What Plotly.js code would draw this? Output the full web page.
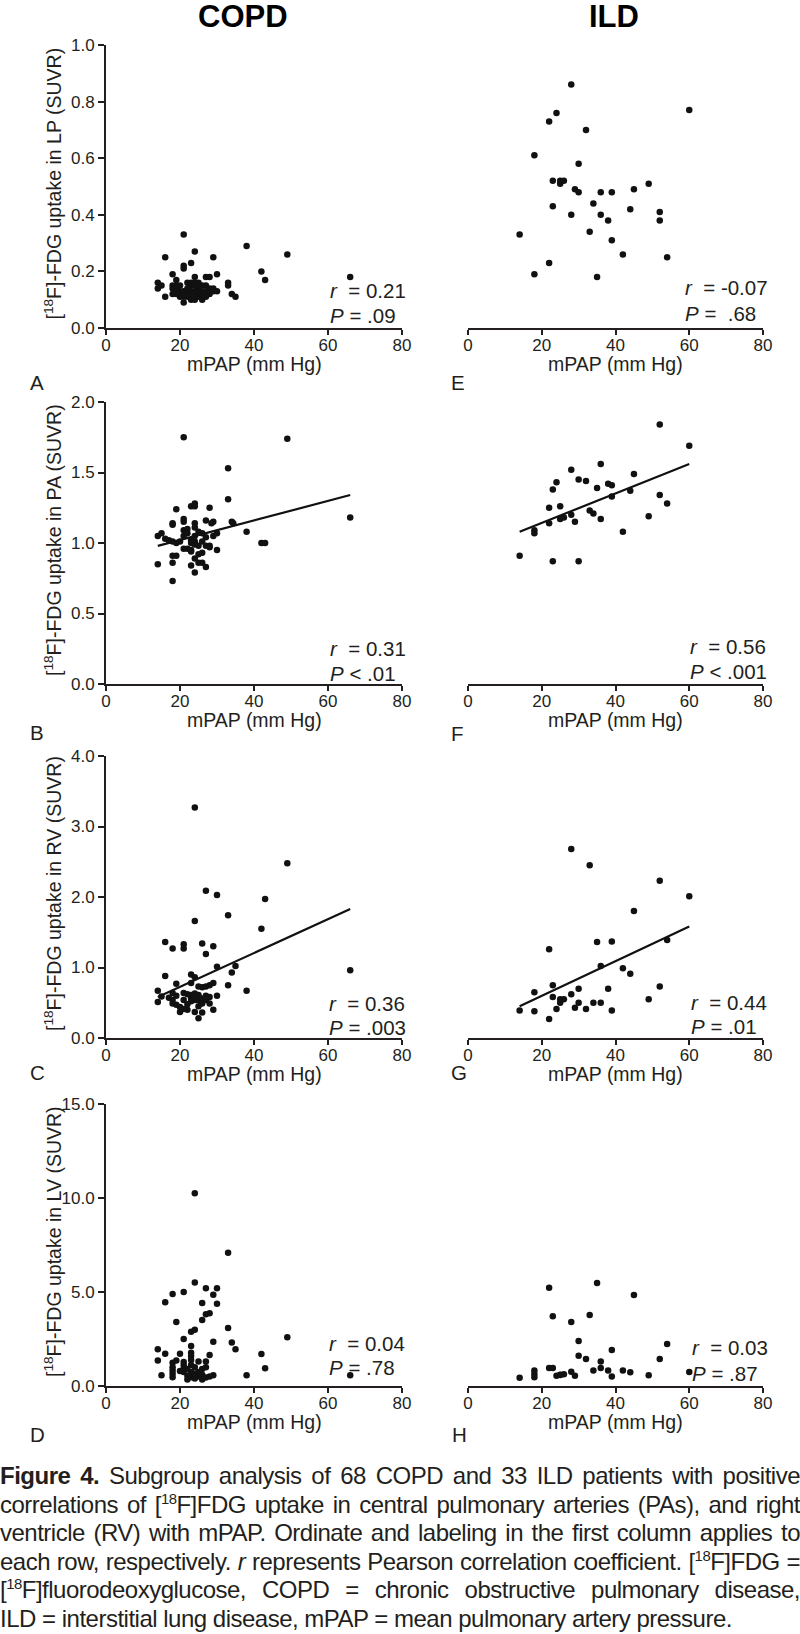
<!DOCTYPE html>
<html><head><meta charset="utf-8">
<script src="https://cdn.plot.ly/plotly-3.0.1.min.js"></script>
<style>
body{margin:0;background:#fff;}
#wrap{position:relative;width:800px;height:1634px;overflow:hidden;}
#plot{position:absolute;left:0;top:0;width:800px;height:1634px;}
#cap{position:absolute;left:0;top:1462px;width:800px;font-family:"Liberation Sans Narrow","Liberation Sans",Arial,sans-serif;font-size:24px;letter-spacing:-0.5px;line-height:28.6px;color:#231f20;}
#cap div{text-align:justify;text-align-last:justify;white-space:nowrap;}
#cap div.last{text-align-last:left;}
#cap sup{font-size:0.62em;line-height:0;vertical-align:0.62em;}
</style></head>
<body>
<div id="wrap">
<div id="plot"></div>
<div id="cap">
<div><b>Figure 4.</b> Subgroup analysis of 68 COPD and 33 ILD patients with positive</div>
<div>correlations of [<sup>18</sup>F]FDG uptake in central pulmonary arteries (PAs), and right</div>
<div>ventricle (RV) with mPAP. Ordinate and labeling in the first column applies to</div>
<div>each row, respectively. <i>r</i> represents Pearson correlation coefficient. [<sup>18</sup>F]FDG =</div>
<div>[<sup>18</sup>F]fluorodeoxyglucose, COPD = chronic obstructive pulmonary disease,</div>
<div class="last">ILD = interstitial lung disease, mPAP = mean pulmonary artery pressure.</div>
</div>
</div>
<script>
// ---------- DATA ----------
const columnTitles = ["COPD", "ILD"];
const panelLetters = ["A", "E", "B", "F", "C", "G", "D", "H"];
const yTitles = ["LP", "PA", "RV", "LV"];
const yRanges = [1, 2, 4, 15];
const yDticks = [0.2, 0.5, 1, 5];
const xTicks = [0, 20, 40, 60, 80];

// COPD - LP (A)
const copdLP_x = [21,16,24,23,21,21,29,38,49,42,43,66,
  18,19,30,24,27,28,33,33,14,14,15,18,18,22,23,24,23,24,23,24,26,27,25,26,27,29,30,28,20,21,19,18,22,22,20,21,16,21,23,24,25,26,26,34,35,19,22,25,28,29,
  20,25,27,23,24,19];
const copdLP_y = [0.33,0.25,0.27,0.23,0.22,0.21,0.25,0.29,0.26,0.20,0.17,0.18,
  0.19,0.17,0.19,0.18,0.18,0.18,0.16,0.15,0.16,0.14,0.15,0.15,0.14,0.16,0.16,0.16,0.15,0.15,0.13,0.13,0.15,0.15,0.14,0.13,0.13,0.13,0.13,0.12,0.13,0.13,0.12,0.12,0.12,0.11,0.11,0.11,0.11,0.09,0.10,0.10,0.11,0.10,0.12,0.12,0.11,0.15,0.14,0.16,0.14,0.14,
  0.15,0.13,0.11,0.12,0.12,0.14];

// COPD - PA (B)
const copdPA_x = [21,49,33,33,66,19,23,24,24,28,18,18,21,21,24,24,27,29,28.5,34,34.4,38,42,43,
  14,15,16,17,18,19,20,21,21,22,22,23,23,24,24,24,25,25,26,26,27,27,28,28,29,30,
  30,21,23,23,25,26,18,19,24,14,18,25,26,23,27,24,18,22];
const copdPA_y = [1.75,1.74,1.53,1.31,1.18,1.24,1.26,1.28,1.26,1.25,1.14,1.13,1.17,1.15,1.14,1.11,1.16,1.15,1.14,1.15,1.14,1.08,1.0,1.0,
  1.05,1.07,1.03,1.02,1.01,1.0,1.01,1.09,1.05,1.10,1.07,1.02,1.0,1.05,1.01,0.99,1.08,0.98,1.07,1.01,1.04,0.98,0.98,0.97,1.05,1.07,
  0.95,0.96,0.95,0.94,0.92,0.93,0.91,0.91,0.89,0.85,0.86,0.86,0.86,0.84,0.83,0.79,0.73,0.96];
const fitPA_x = [14, 66];
const fitPA_y = [0.98, 1.34];

// COPD - RV (C)
const copdRV_x = [24,49,27,30,43,24,33,42,16,18,21,21,26,29,27,30,35,66,34,16,23,24,33,38,19,29,25,26,27,28,23,14,18,21,14,15,18,18,19,20,21,22,23,23,23,24,24,24,25,25,26,26,27,27,28,29,24,25,26,17,20,22,22,25,28,30,21,19];
const copdRV_y = [3.27,2.48,2.09,2.03,1.97,1.66,1.74,1.55,1.36,1.27,1.33,1.27,1.34,1.30,1.19,1.01,1.02,0.96,0.93,0.88,0.90,0.86,0.75,0.67,0.77,0.78,0.73,0.72,0.73,0.75,0.78,0.67,0.64,0.64,0.51,0.59,0.54,0.49,0.47,0.37,0.41,0.40,0.61,0.56,0.52,0.63,0.58,0.54,0.61,0.54,0.56,0.49,0.60,0.54,0.49,0.40,0.37,0.28,0.36,0.57,0.44,0.48,0.62,0.45,0.58,0.60,0.54,0.60];
const fitRV_x = [14, 66];
const fitRV_y = [0.58, 1.83];

// COPD - LV (D)
const copdLV_x = [24,33,24,21,18,27,30,29,16,26,30,28,27,26,19,33,24,23,49,21,29,34,35,23,14,16,20,23,28,42,
  14,18,19,21,21,21,21,18,18,18,18,15,23,23,23,23,23,22,24,25,25,25,26,26,27,27,29,38,43,66,24,22,20,28,26,24,22,27];
const copdLV_y = [10.25,7.09,5.5,5.0,4.89,5.2,5.2,4.85,4.45,4.42,4.37,3.87,3.82,3.51,3.41,3.09,2.99,2.89,2.59,2.5,2.36,2.31,1.95,2.13,1.95,1.72,1.72,1.77,1.65,1.70,
  1.35,1.24,1.35,1.27,1.10,0.92,0.75,1.0,0.82,0.65,0.46,0.57,1.59,1.38,1.12,0.75,0.46,0.55,1.0,1.3,0.75,0.5,0.6,0.35,1.3,1.0,0.57,0.57,0.95,0.57,0.4,0.9,0.8,0.5,0.9,0.65,0.35,0.45];

// ILD - LP (E)
const ildLP_x = [28,60,24,22,32,18,30,23,25,25,26,49,45,29,30,36,39,34,23,44,52,52,28,36,38,14,33,39,42,54,22,18,35];
const ildLP_y = [0.86,0.77,0.76,0.73,0.70,0.61,0.58,0.52,0.51,0.52,0.52,0.51,0.49,0.49,0.48,0.48,0.48,0.44,0.43,0.42,0.41,0.38,0.40,0.40,0.38,0.33,0.34,0.31,0.26,0.25,0.23,0.19,0.18];

// ILD - PA (F)
const ildPA_x = [52,60,36,28,45,24,30,32,23,38,39,35,44,39,52,54,22,25,33,34,28,26,25,36,49,22,29,18,18,42,14,23,30];
const ildPA_y = [1.84,1.69,1.56,1.52,1.49,1.43,1.45,1.44,1.38,1.42,1.41,1.39,1.37,1.33,1.34,1.28,1.25,1.26,1.23,1.21,1.20,1.18,1.17,1.17,1.19,1.14,1.15,1.09,1.07,1.08,0.91,0.87,0.87];
const fitPAild_x = [14, 60];
const fitPAild_y = [1.08, 1.56];

// ILD - RV (G)
const ildRV_x = [28,33,52,60,45,35,39,54,22,36,42,44,23,52,18,30,38,28,23,25,26,49,30,25,34,36,14,18,24,29,32,39,22];
const ildRV_y = [2.68,2.45,2.23,2.01,1.80,1.36,1.37,1.39,1.26,1.02,0.99,0.91,0.75,0.73,0.65,0.70,0.70,0.62,0.58,0.55,0.55,0.55,0.50,0.50,0.50,0.50,0.39,0.38,0.41,0.43,0.41,0.39,0.27];
const fitRVild_x = [14, 60];
const fitRVild_y = [0.45, 1.58];

// ILD - LV (H)
const ildLV_x = [22,35,45,23,33,28,30,54,30,39,32,52,36,36,22,23,34,38,42,44,18,18,18,28,24,25,26,29,39,49,60,14,25];
const ildLV_y = [5.23,5.48,4.84,3.71,3.78,3.40,2.39,2.23,1.61,1.91,1.44,1.44,1.30,0.96,0.96,0.96,0.83,0.83,0.83,0.73,0.82,0.64,0.46,0.76,0.55,0.60,0.62,0.55,0.50,0.57,0.74,0.44,0.58];

const rTexts = ["0.21", "-0.07", "0.31", "0.56", "0.36", "0.44", "0.04", "0.03"];
const pTexts = ["= .09", "=\u00a0 .68", "< .01", "< .001", "= .003", "= .01", "= .78", "= .87"];

// ---------- LAYOUT GEOMETRY (pixels) ----------
const W = 800, H = 1634;
const colPx = [[106, 402], [468, 763]];
const rowPx = [[45, 328], [402, 684], [756, 1038], [1104, 1386]];
const statPos = [ // [left x, r center y, P center y]
  [328, 290, 315], [683, 287, 313],
  [328, 648, 673], [688, 647, 672],
  [327, 1003, 1027], [689, 1002, 1026],
  [327, 1343, 1367], [690, 1347, 1373]
];
const letterPos = [[37,383],[458,383],[37,732],[457,733],[37,1072],[459,1072],[37,1434],[459,1434]];
const fx = p => p / W, fy = p => 1 - p / H;

const panelData = [
  [copdLP_x, copdLP_y, null, null],
  [ildLP_x, ildLP_y, null, null],
  [copdPA_x, copdPA_y, fitPA_x, fitPA_y],
  [ildPA_x, ildPA_y, fitPAild_x, fitPAild_y],
  [copdRV_x, copdRV_y, fitRV_x, fitRV_y],
  [ildRV_x, ildRV_y, fitRVild_x, fitRVild_y],
  [copdLV_x, copdLV_y, null, null],
  [ildLV_x, ildLV_y, null, null]
];

const INK = '#231f20';
const FONT = 'Liberation Sans, Arial, sans-serif';
const traces = [];
const layout = {
  width: W, height: H, margin: {l:0, r:0, t:0, b:0},
  paper_bgcolor: '#fff', plot_bgcolor: 'rgba(0,0,0,0)',
  showlegend: false, font: {family: FONT, color: INK},
  annotations: []
};

panelData.forEach((pd, k) => {
  const row = Math.floor(k / 2), col = k % 2;
  const n = k + 1;
  const xa = n === 1 ? 'x' : 'x' + n, ya = n === 1 ? 'y' : 'y' + n;
  const xk = n === 1 ? 'xaxis' : 'xaxis' + n, yk = n === 1 ? 'yaxis' : 'yaxis' + n;
  traces.push({type:'scatter', mode:'markers', x: pd[0], y: pd[1], xaxis: xa, yaxis: ya,
    marker: {size: 6.5, color: '#111'}, cliponaxis: false, hoverinfo: 'skip'});
  if (pd[2]) {
    traces.push({type:'scatter', mode:'lines', x: pd[2], y: pd[3], xaxis: xa, yaxis: ya,
      line: {color: '#111', width: 2.2}, hoverinfo: 'skip'});
  }
  const [xl, xr] = colPx[col], [yt, yb] = rowPx[row];
  layout[xk] = {
    domain: [fx(xl), fx(xr)], anchor: ya, range: [0, 80], tickvals: xTicks,
    showline: true, linewidth: 2, linecolor: INK, ticks: 'outside', ticklen: 5, tickwidth: 2, tickcolor: INK,
    ticklabelstandoff: -4,
    showgrid: false, zeroline: false, tickfont: {size: 17, color: INK, family: FONT}, fixedrange: true
  };
  const yax = {
    domain: [fy(yb), fy(yt)], anchor: xa, range: [0, yRanges[row]], dtick: yDticks[row], tick0: 0,
    tickformat: '.1f', showgrid: false, zeroline: false, fixedrange: true
  };
  if (col === 0) {
    Object.assign(yax, {showline: true, linewidth: 2, linecolor: INK, ticks: 'outside', ticklen: 6, tickwidth: 2,
      tickcolor: INK, showticklabels: true, tickfont: {size: 17, color: INK, family: FONT}});
  } else {
    Object.assign(yax, {visible: false});
  }
  layout[yk] = yax;
  // x-axis title
  layout.annotations.push({xref:'paper', yref:'paper', x: fx((xl + xr) / 2), y: fy(yb + 36),
    xanchor:'center', yanchor:'middle', showarrow:false, text:'mPAP (mm Hg)', font:{size:19.5, color:INK, family:FONT}});
  // y-axis title (first column only)
  if (col === 0) {
    layout.annotations.push({xref:'paper', yref:'paper', x: fx(53), y: fy((yt + yb) / 2 - 3),
      xanchor:'center', yanchor:'middle', showarrow:false, textangle:-90,
      text:'[<sup>18</sup>F]-FDG uptake in ' + yTitles[row] + ' (SUVR)', font:{size:19.5, color:INK, family:FONT}});
  }
  // statistics
  const sp = statPos[k];
  layout.annotations.push({xref:'paper', yref:'paper', x: fx(sp[0]), y: fy(sp[1]), xanchor:'left', yanchor:'middle',
    showarrow:false, text:'<i>r</i>\u00a0\u00a0= ' + rTexts[k], font:{size:20.5, color:INK, family:FONT}});
  layout.annotations.push({xref:'paper', yref:'paper', x: fx(sp[0]), y: fy(sp[2]), xanchor:'left', yanchor:'middle',
    showarrow:false, text:'<i>P</i> ' + pTexts[k], font:{size:20.5, color:INK, family:FONT}});
  // panel letter
  layout.annotations.push({xref:'paper', yref:'paper', x: fx(letterPos[k][0]), y: fy(letterPos[k][1]), xanchor:'center', yanchor:'middle',
    showarrow:false, text: panelLetters[k], font:{size:20.5, color:INK, family:FONT}});
});

// column titles
[[243, 0], [614, 1]].forEach(([cx, i]) => {
  layout.annotations.push({xref:'paper', yref:'paper', x: fx(cx), y: fy(16), xanchor:'center', yanchor:'middle',
    showarrow:false, text:'<b>' + columnTitles[i] + '</b>', font:{size:31, color:'#000', family:FONT}});
});

Plotly.newPlot('plot', traces, layout, {displayModeBar: false, staticPlot: true});
</script>
</body></html>
